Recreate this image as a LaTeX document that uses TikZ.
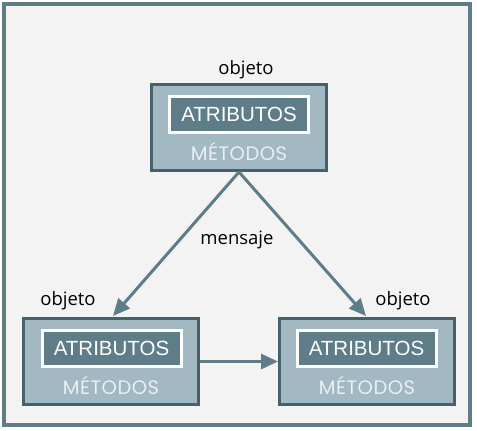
\documentclass[tikz,border=0pt]{standalone}
\usepackage{fontspec}
\setmainfont{Open Sans}
\newfontfamily\arialf{Liberation Sans}
\newfontfamily\popf[LetterSpace=2.5]{Poppins}
\usetikzlibrary{arrows.meta}
\definecolor{bgc}{HTML}{F3F3F3}
\definecolor{framec}{HTML}{5F7C89}
\definecolor{boxfill}{HTML}{A2B8C3}
\definecolor{boxline}{HTML}{46606C}
\definecolor{innerfill}{HTML}{5F7C89}
\definecolor{metc}{HTML}{E9EFF2}
\tikzset{
  objbox/.style={draw=boxline, fill=boxfill, line width=3pt, minimum width=175pt, minimum height=86pt, inner sep=0pt},
  attbox/.style={draw=white, fill=innerfill, line width=3pt, minimum width=139pt, minimum height=36pt, inner sep=0pt, text=white, font=\arialf\fontsize{20.5pt}{20.5pt}\selectfont},
  metlbl/.style={text=metc, inner sep=0pt, font=\popf\fontsize{19.5pt}{19.5pt}\selectfont},
  lbl/.style={text=black, inner sep=0pt, font=\fontsize{18.5pt}{18.5pt}\selectfont},
  arr/.style={draw=framec, line width=3pt, -{Triangle[length=17pt,width=15pt]}}
}
\begin{document}
\begin{tikzpicture}[x=1pt,y=-1pt]
\useasboundingbox (0,0) rectangle (477,431);
\draw[draw=framec, fill=bgc, line width=4pt] (4,4) rectangle (470,424.5);
% top object
\node[objbox] (top) at (239,127.5) {};
\node[attbox] (topa) at (239,114.5) {ATRIBUTOS};
\node[metlbl] (topm) at (239,151.5) {MÉTODOS};
\node[lbl] (topl) at (246,70) {objeto};
% bottom-left object
\node[objbox] (bl) at (111,361.5) {};
\node[attbox] (bla) at (111.5,348.5) {ATRIBUTOS};
\node[metlbl] (blm) at (111,385.5) {MÉTODOS};
\node[lbl] (bll) at (68,301) {objeto};
% bottom-right object
\node[objbox] (br) at (367,361.5) {};
\node[attbox] (bra) at (366.5,348.5) {ATRIBUTOS};
\node[metlbl] (brm) at (367,385.5) {MÉTODOS};
\node[lbl] (brl) at (403,301) {objeto};
% message label
\node[lbl] (msg) at (237,240) {mensaje};
% connectors
\coordinate (blt) at (113,316);
\coordinate (brt) at (366,316);
\draw[arr] (top.south) -- (blt);
\draw[arr] (top.south) -- (brt);
\draw[arr] (bl.east) -- (br.west);
\end{tikzpicture}
\end{document}
